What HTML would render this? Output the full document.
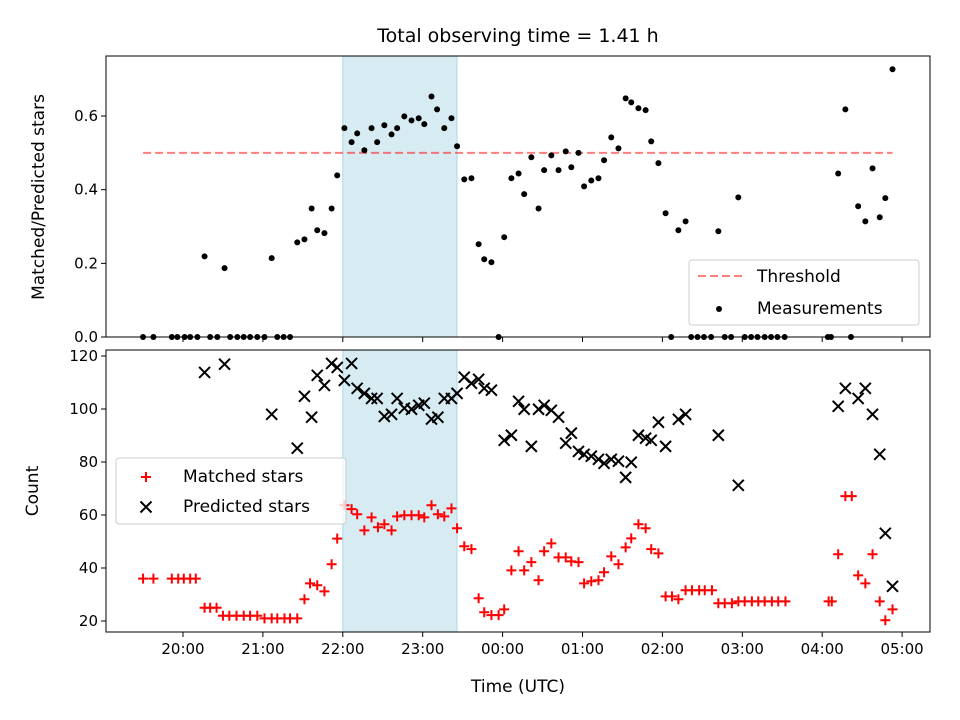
<!DOCTYPE html>
<html><head><meta charset="utf-8"><style>
html,body{margin:0;padding:0;background:#fff}
svg{display:block;font-family:"DejaVu Sans","Liberation Sans",sans-serif}
</style></head><body>
<svg id="chart" width="960" height="720" viewBox="0 0 960 720" xmlns="http://www.w3.org/2000/svg">
<text x="518" y="42" font-size="19" text-anchor="middle">Total observing time = 1.41 h</text>
<g id="topPanel"></g>
<g id="botPanel"></g>
</svg>
<script>
const ratioTimes=[19.50,19.63,19.86,19.93,20.02,20.09,20.18,20.27,20.34,20.43,20.52,20.59,20.68,20.76,20.84,20.93,21.02,21.11,21.18,21.26,21.34,21.43,21.52,21.61,21.68,21.77,21.86,21.93,22.02,22.11,22.18,22.27,22.36,22.43,22.52,22.61,22.68,22.77,22.86,22.95,23.02,23.11,23.18,23.27,23.36,23.43,23.52,23.61,23.70,23.77,23.86,23.95,24.02,24.11,24.20,24.27,24.36,24.45,24.52,24.61,24.70,24.79,24.86,24.95,25.02,25.11,25.20,25.27,25.36,25.45,25.54,25.61,25.70,25.79,25.86,25.95,26.04,26.11,26.20,26.29,26.36,26.44,26.52,26.61,26.70,26.78,26.86,26.95,27.03,27.11,27.19,27.28,27.36,27.44,27.53,28.07,28.11,28.20,28.29,28.36,28.45,28.54,28.63,28.72,28.79,28.88];
const ratioValues=[0,0,0,0,0,0,0,0.219,0,0,0.187,0,0,0,0,0,0,0.214,0,0,0,0.257,0.265,0.349,0.290,0.282,0.349,0.439,0.567,0.529,0.553,0.507,0.567,0.529,0.575,0.550,0.567,0.599,0.588,0.594,0.578,0.653,0.618,0.567,0.594,0.518,0.428,0.431,0.252,0.211,0.203,0,0.271,0.431,0.444,0.388,0.488,0.349,0.453,0.493,0.453,0.504,0.461,0.500,0.409,0.425,0.431,0.480,0.542,0.512,0.648,0.637,0.621,0.616,0.531,0.472,0.336,0,0.290,0.314,0,0,0,0,0.287,0,0,0.379,0,0,0,0,0,0,0,0,0,0.444,0.618,0,0.355,0.314,0.458,0.325,0.377,0.727];
const matchedTimes=[19.50,19.63,19.86,19.94,20.01,20.09,20.16,20.27,20.34,20.42,20.50,20.58,20.67,20.76,20.84,20.93,21.02,21.11,21.18,21.27,21.34,21.43,21.52,21.59,21.68,21.77,21.86,21.93,22.02,22.11,22.18,22.27,22.36,22.44,22.52,22.61,22.68,22.77,22.86,22.95,23.02,23.11,23.19,23.27,23.36,23.43,23.52,23.61,23.70,23.77,23.86,23.95,24.02,24.11,24.20,24.27,24.36,24.45,24.52,24.61,24.70,24.79,24.86,24.95,25.02,25.11,25.20,25.27,25.36,25.45,25.54,25.61,25.70,25.79,25.86,25.95,26.04,26.12,26.20,26.29,26.37,26.46,26.53,26.62,26.70,26.78,26.87,26.95,27.03,27.12,27.20,27.28,27.37,27.45,27.54,28.08,28.12,28.20,28.29,28.37,28.45,28.54,28.63,28.72,28.79,28.88];
const matchedValues=[36,36,36,36,36,36,36,25,25,25,22,22,22,22,22,22,21,21,21,21,21,21,28.2,34.2,33.5,31.2,41.4,51.1,63.7,62.2,60.3,54.2,59.1,55.4,56.5,54.2,59.5,59.9,59.9,59.9,59.1,63.7,60.3,59.5,62.5,55,48.2,47.1,28.6,23.3,22.2,22.2,24.4,39.1,46.3,39.1,42.2,35.4,46.3,49.3,44,44,42.5,42.2,34.2,35,35.4,38.4,44.4,41.4,47.8,51.2,56.5,55,47.1,45.5,29.3,29.3,28.2,31.6,31.6,31.6,31.6,31.6,26.7,26.7,26.7,27.4,27.4,27.4,27.4,27.4,27.4,27.4,27.4,27.4,27.4,45.2,67.1,67.1,37.2,34.2,45.2,27.4,20.3,24.4];
const predictedTimes=[20.27,20.52,21.11,21.43,21.52,21.61,21.68,21.77,21.86,21.93,22.02,22.11,22.18,22.27,22.36,22.43,22.52,22.61,22.68,22.77,22.86,22.95,23.02,23.11,23.19,23.27,23.36,23.43,23.52,23.61,23.70,23.77,23.86,24.02,24.11,24.20,24.27,24.36,24.45,24.52,24.61,24.70,24.79,24.86,24.95,25.02,25.11,25.20,25.27,25.36,25.45,25.54,25.61,25.70,25.79,25.86,25.95,26.04,26.20,26.29,26.70,26.95,28.20,28.29,28.45,28.54,28.63,28.72,28.79,28.88];
const predictedValues=[113.8,116.9,98,85.2,104.8,96.9,112.7,108.9,117.2,115.7,110.8,117.2,107.8,105.9,104,104,97.2,98,104,100.3,99.9,101.4,102.2,96.2,96.9,104,104,105.9,112,109.7,111.2,107.8,107.1,88.2,90.1,102.9,99.9,85.9,99.9,101.4,99.5,96.9,87.1,90.9,84,82.9,82.2,81,79.5,81,80.3,74.2,79.9,90.1,89,88.2,95,85.9,96.1,98,90.1,71.2,101,107.8,104,107.8,98,82.9,53.1,33.1];
const threshold=0.5, thrStart=19.5, thrEnd=28.88;
const spanStart=22.0, spanEnd=23.43;
const xTickVals=[20,21,22,23,24,25,26,27,28,29];
const xTickLabels=["20:00","21:00","22:00","23:00","00:00","01:00","02:00","03:00","04:00","05:00"];
const ratioTicks=[0,0.2,0.4,0.6], ratioTickLabels=["0.0","0.2","0.4","0.6"];
const countTicks=[20,40,60,80,100,120];

const NS="http://www.w3.org/2000/svg";
const L=106,R=930;
const X=t=>183+(t-20)*79.9;
const TT=56,TB=337, BT=350,BB=632;
const Yr=v=>337-v*368.3;
const Yc=v=>621-(v-20)*2.65;
function mk(p,tag,a){const e=document.createElementNS(NS,tag);for(const k in a)e.setAttribute(k,a[k]);p.appendChild(e);return e;}
const topG=document.getElementById('topPanel'), botG=document.getElementById('botPanel');

[[topG,TT,TB],[botG,BT,BB]].forEach(([g,t,b],pi)=>{
  const s=mk(g,'rect',{x:X(spanStart),y:t,width:X(spanEnd)-X(spanStart),height:b-t,fill:'#add8e6','fill-opacity':0.5,stroke:'#add8e6','stroke-width':1});
  
  
  xTickVals.forEach((v,i)=>{
    const tk=mk(g,'line',{x1:X(v),x2:X(v),y1:b,y2:b+5,stroke:'#000','stroke-width':1});
    
    
    if(pi===1){const tl=mk(g,'text',{x:X(v),y:b+22,'font-size':15,'text-anchor':'middle'});tl.textContent=xTickLabels[i];
      
      }
  });
});
ratioTicks.forEach((v,i)=>{
  const tk=mk(topG,'line',{x1:L-5,x2:L,y1:Yr(v),y2:Yr(v),stroke:'#000'});
  
  
  const tl=mk(topG,'text',{x:L-8,y:Yr(v)+5,'font-size':15,'text-anchor':'end'});tl.textContent=ratioTickLabels[i];
  
  
});
countTicks.forEach(v=>{
  const tk=mk(botG,'line',{x1:L-5,x2:L,y1:Yc(v),y2:Yc(v),stroke:'#000'});
  
  
  const tl=mk(botG,'text',{x:L-8,y:Yc(v)+5,'font-size':15,'text-anchor':'end'});tl.textContent=String(v);
  
  
});
const th=mk(topG,'line',{x1:X(thrStart),x2:X(thrEnd),y1:Yr(threshold),y2:Yr(threshold),stroke:'#ff0000','stroke-opacity':0.5,'stroke-width':2,'stroke-dasharray':'8,4'});


ratioTimes.forEach((t,i)=>{
  const c=mk(topG,'circle',{cx:X(t),cy:Yr(ratioValues[i]),r:3,fill:'#000'});
  
  
});
matchedTimes.forEach((t,i)=>{
  const x=X(t),y=Yc(matchedValues[i]);
  const p=mk(botG,'path',{d:`M${x-5},${y}H${x+5}M${x},${y-5}V${y+5}`,stroke:'#ff0000','stroke-width':2,fill:'none'});
  
  
});
predictedTimes.forEach((t,i)=>{
  const x=X(t),y=Yc(predictedValues[i]);
  const p=mk(botG,'path',{d:`M${x-5.5},${y-5.5}L${x+5.5},${y+5.5}M${x-5.5},${y+5.5}L${x+5.5},${y-5.5}`,stroke:'#000','stroke-width':2,fill:'none'});
  
  
});
[[topG,TT,TB],[botG,BT,BB]].forEach(([g,t,b])=>{
  const f=mk(g,'rect',{x:L,y:t,width:R-L,height:b-t,fill:'none',stroke:'#000','stroke-width':1});
  
  
});
const lg1=mk(topG,'g',{});


mk(lg1,'rect',{x:689,y:260,width:230,height:65,rx:3,fill:'#fff','fill-opacity':0.8,stroke:'#ccc'});
mk(lg1,'line',{x1:698,x2:742,y1:276,y2:276,stroke:'#ff0000','stroke-opacity':0.5,'stroke-width':2,'stroke-dasharray':'8,4'});
mk(lg1,'circle',{cx:719,cy:309,r:3,fill:'#000'});
let t1=mk(lg1,'text',{x:757,y:282,'font-size':17});t1.textContent='Threshold';
let t2=mk(lg1,'text',{x:757,y:314,'font-size':17});t2.textContent='Measurements';
const lg2=mk(botG,'g',{});


mk(lg2,'rect',{x:116,y:458,width:230,height:66,rx:3,fill:'#fff','fill-opacity':0.8,stroke:'#ccc'});
mk(lg2,'path',{d:'M141,477H151M146,472V482',stroke:'#ff0000','stroke-width':2});
mk(lg2,'path',{d:'M140.5,501.5L151.5,512.5M140.5,512.5L151.5,501.5',stroke:'#000','stroke-width':2});
let t3=mk(lg2,'text',{x:183,y:482,'font-size':17});t3.textContent='Matched stars';
let t4=mk(lg2,'text',{x:183,y:512,'font-size':17});t4.textContent='Predicted stars';
const svg=document.getElementById('chart');
let a1=mk(svg,'text',{x:0,y:0,'font-size':17,'text-anchor':'middle',transform:'translate(44,197) rotate(-90)'});a1.textContent='Matched/Predicted stars';


let a2=mk(svg,'text',{x:0,y:0,'font-size':17,'text-anchor':'middle',transform:'translate(38,491) rotate(-90)'});a2.textContent='Count';


let a3=mk(svg,'text',{x:518,y:692,'font-size':17,'text-anchor':'middle'});a3.textContent='Time (UTC)';


</script>
</body></html>
